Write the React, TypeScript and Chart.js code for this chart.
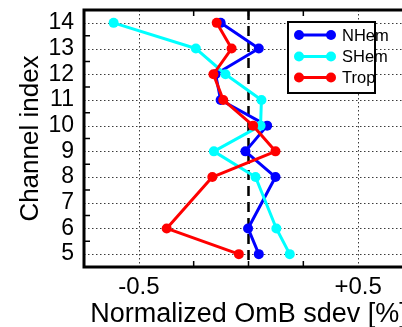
import React, { useEffect, useRef } from 'react';
import { Chart, registerables } from 'chart.js';

Chart.register(...registerables);

// ---- data ----
const channels = [5, 6, 8, 9, 10, 11, 12, 13, 14];
const nhemValues = [0.047, -0.002, 0.123, -0.014, 0.085, -0.127, -0.15, 0.047, -0.127];
const shemValues = [0.188, 0.127, 0.032, -0.158, 0.055, 0.059, -0.105, -0.24, -0.615];
const tropValues = [-0.044, -0.373, -0.165, 0.123, 0.021, -0.115, -0.16, -0.077, -0.145];
const seriesNames = ['NHem', 'SHem', 'Trop'];
const seriesColors = ['#0000ff', '#00ffff', '#ff0000'];

const yTickValues = [5, 6, 7, 8, 9, 10, 11, 12, 13, 14];
const yMinorTicks = [5.5, 6.5, 7.5, 8.5, 9.5, 10.5, 11.5, 12.5, 13.5];
const xTickValues = [-0.5, 0.5];
const xTickLabels = ['-0.5', '+0.5'];
const xMinorTicks = [-0.25, 0, 0.25];
const xMin = -0.75;
const xMax = 0.75;
const yMin = 4.5;
const yMax = 14.5;

const FONT = '"Liberation Sans", Arial, Helvetica, sans-serif';

const framePlugin = {
  id: 'matlabFrame',
  beforeDatasetsDraw(chart: any) {
    const { ctx, chartArea: a, scales } = chart;
    const x = scales.x;
    const y = scales.y;
    ctx.save();
    ctx.strokeStyle = '#3a3a3a';
    ctx.lineWidth = 1;
    ctx.setLineDash([1.5, 2.5]);
    yTickValues.forEach((v) => {
      const py = Math.round(y.getPixelForValue(v)) + 0.5;
      ctx.beginPath();
      ctx.moveTo(a.left, py);
      ctx.lineTo(a.right, py);
      ctx.stroke();
    });
    xTickValues.forEach((v) => {
      const px = Math.round(x.getPixelForValue(v)) + 0.5;
      ctx.beginPath();
      ctx.moveTo(px, a.top);
      ctx.lineTo(px, a.bottom);
      ctx.stroke();
    });
    // zero dashed line
    ctx.setLineDash([10, 6]);
    ctx.lineWidth = 2.5;
    ctx.strokeStyle = '#000';
    const x0 = x.getPixelForValue(0);
    ctx.beginPath();
    ctx.moveTo(x0, a.top);
    ctx.lineTo(x0, a.bottom);
    ctx.stroke();
    ctx.restore();
  },
  afterDatasetsDraw(chart: any) {
    const { ctx, chartArea: a, scales } = chart;
    const x = scales.x;
    const y = scales.y;
    ctx.save();
    ctx.setLineDash([]);
    ctx.strokeStyle = '#000';
    ctx.lineWidth = 1.5;
    const tl = 6;
    yMinorTicks.forEach((v) => {
      const py = y.getPixelForValue(v);
      ctx.beginPath();
      ctx.moveTo(a.left, py);
      ctx.lineTo(a.left + tl, py);
      ctx.moveTo(a.right, py);
      ctx.lineTo(a.right - tl, py);
      ctx.stroke();
    });
    xMinorTicks.forEach((v) => {
      const px = x.getPixelForValue(v);
      ctx.beginPath();
      ctx.moveTo(px, a.top);
      ctx.lineTo(px, a.top + tl);
      ctx.moveTo(px, a.bottom);
      ctx.lineTo(px, a.bottom - tl);
      ctx.stroke();
    });
    // frame
    ctx.lineWidth = 3;
    ctx.strokeRect(a.left, a.top, a.right - a.left, a.bottom - a.top);

    // legend
    const bx = 288;
    const by = 22;
    const bw = 87;
    const bh = 71;
    ctx.fillStyle = '#fff';
    ctx.fillRect(bx, by, bw, bh);
    ctx.lineWidth = 2;
    ctx.strokeStyle = '#000';
    ctx.strokeRect(bx, by, bw, bh);
    const rowsY = [35, 56.5, 77.5];
    chart.data.datasets.forEach((ds: any, i: number) => {
      const ly = rowsY[i];
      ctx.strokeStyle = ds.borderColor;
      ctx.fillStyle = ds.borderColor;
      ctx.lineWidth = 3;
      ctx.beginPath();
      ctx.moveTo(299, ly);
      ctx.lineTo(331, ly);
      ctx.stroke();
      [299, 331].forEach((cx) => {
        ctx.beginPath();
        ctx.arc(cx, ly, 5, 0, Math.PI * 2);
        ctx.fill();
      });
      ctx.fillStyle = '#000';
      ctx.font = `16.5px ${FONT}`;
      ctx.textAlign = 'left';
      ctx.textBaseline = 'middle';
      ctx.fillText(ds.label, 342, ly + 1);
    });
    ctx.restore();
  },
};

export default function App() {
  const canvasRef = useRef<HTMLCanvasElement | null>(null);

  useEffect(() => {
    const canvas = canvasRef.current;
    if (!canvas) return;
    const seriesValues = [nhemValues, shemValues, tropValues];
    const drawOrder = [3, 2, 1];
    const chart = new Chart(canvas, {
      type: 'line',
      data: {
        datasets: seriesValues.map((vals, i) => ({
          label: seriesNames[i],
          data: channels.map((c, j) => ({ x: vals[j], y: c })),
          borderColor: seriesColors[i],
          backgroundColor: seriesColors[i],
          pointBackgroundColor: seriesColors[i],
          pointBorderColor: seriesColors[i],
          borderWidth: 3,
          pointRadius: 5,
          pointBorderWidth: 0,
          pointHoverRadius: 5,
          tension: 0,
          fill: false,
          order: drawOrder[i],
          borderJoinStyle: 'round',
        })),
      },
      options: {
        responsive: false,
        animation: false,
        devicePixelRatio: 1,
        layout: { padding: { top: 10, right: 27, left: 0, bottom: 0 } },
        plugins: {
          legend: { display: false },
          tooltip: { enabled: false },
        },
        scales: {
          x: {
            type: 'linear',
            min: xMin,
            max: xMax,
            grid: { display: false, drawTicks: false },
            border: { display: false },
            afterBuildTicks: (scale: any) => {
              scale.ticks = xTickValues.map((v) => ({ value: v }));
            },
            afterFit: (scale: any) => {
              scale.height = 60;
              scale.paddingLeft = 0;
              scale.paddingRight = 0;
            },
            ticks: {
              padding: 6,
              autoSkip: false,
              color: '#000',
              font: { family: FONT, size: 24 },
              maxRotation: 0,
              callback: (v: any) => {
                const i = xTickValues.indexOf(Number(v));
                return i >= 0 ? xTickLabels[i] : '';
              },
            },
            title: {
              display: true,
              text: 'Normalized OmB sdev [%]',
              color: '#000',
              font: { family: FONT, size: 27, lineHeight: 0.9 },
              padding: { top: 0, bottom: 0 },
            },
          },
          y: {
            type: 'linear',
            min: yMin,
            max: yMax,
            grid: { display: false, drawTicks: false },
            border: { display: false },
            afterBuildTicks: (scale: any) => {
              scale.ticks = yTickValues.map((v) => ({ value: v }));
            },
            afterFit: (scale: any) => {
              scale.width = 84;
              scale.paddingTop = 0;
              scale.paddingBottom = 0;
            },
            ticks: {
              padding: 10,
              autoSkip: false,
              color: '#000',
              font: { family: FONT, size: 23 },
              callback: (v: any) => String(v),
            },
            title: {
              display: true,
              text: 'Channel index',
              color: '#000',
              font: { family: FONT, size: 26, lineHeight: 1 },
              padding: { top: 18, bottom: 0 },
            },
          },
        },
      } as any,
      plugins: [framePlugin],
    });
    return () => chart.destroy();
  }, []);

  return (
    <div
      style={{
        position: 'fixed',
        left: 0,
        top: 0,
        width: 402,
        height: 327,
        overflow: 'hidden',
        background: '#fff',
      }}
    >
      <canvas ref={canvasRef} width={440} height={327} style={{ width: 440, height: 327, display: 'block' }} />
    </div>
  );
}
